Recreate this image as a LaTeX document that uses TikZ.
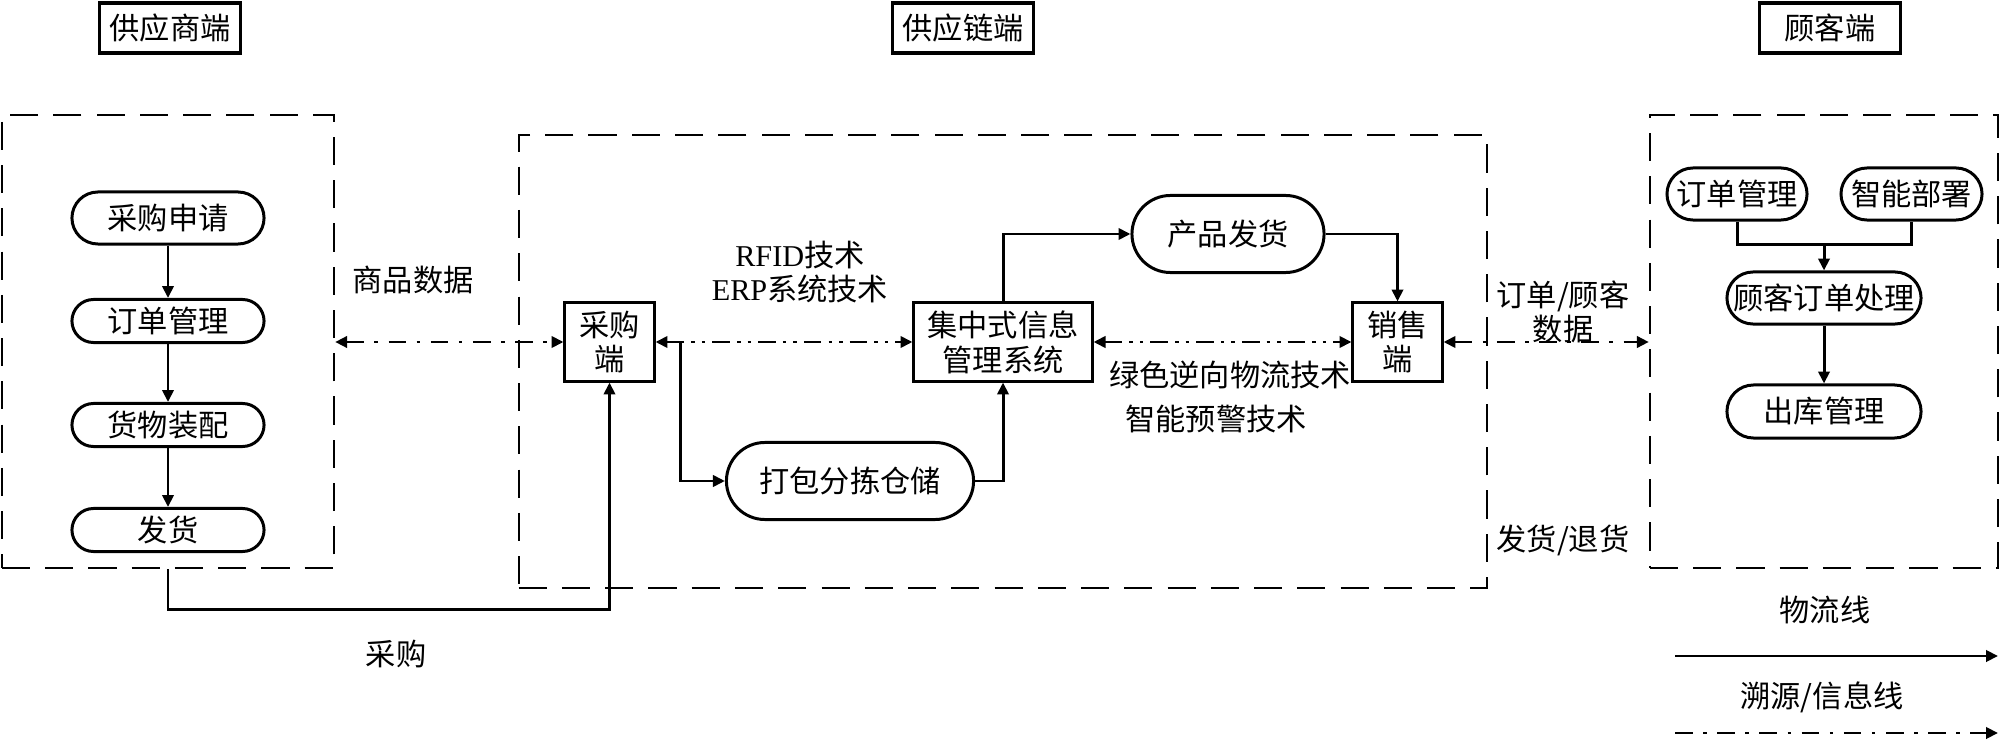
\documentclass[tikz,border=0pt]{standalone}
\usepackage{fontspec}
\setmainfont{Noto Sans CJK SC}
\newfontfamily\latinfont{Liberation Serif}
\usepackage{tikz}
\usetikzlibrary{arrows.meta,positioning,calc}

\begin{document}
\begin{tikzpicture}[
  x=0.01cm, y=-0.01cm,
  font=\fontsize{8.6pt}{9.9pt}\selectfont,
  >={Triangle[length=3.4pt,width=3.2pt]},
  header/.style={draw,line width=1pt,minimum width=1.41cm,minimum height=0.5cm,inner sep=0pt},
  group/.style={draw,line width=0.6pt,dash pattern=on 8pt off 4.3pt,minimum height=4.53cm,inner sep=0pt},
  proc/.style={draw,rectangle,line width=0.85pt,inner sep=0pt,minimum height=#1,rounded corners=#1*0.5},
  unit/.style={draw,rectangle,line width=0.85pt,inner sep=0pt,align=center,minimum height=0.78cm},
  flow/.style={->,line width=0.85pt},
  link/.style={line width=0.85pt},
  info/.style={<->,line width=0.85pt,dash pattern=on 5pt off 3pt on 1pt off 3pt},
  info2/.style={<->,line width=0.85pt,dash pattern=on 5pt off 2pt on 1pt off 2pt on 1pt off 2pt}
]
\useasboundingbox (0,0) rectangle (2000,740);

\def\yinfo{342}

% headers
\node[header] (hsup)   at (170,28)  {供应商端};
\node[header] (hchain) at (963,28)  {供应链端};
\node[header] (hcus)   at (1830,28) {顾客端};

% dashed groups
\node[group,minimum width=3.32cm] (supbox)   at (168,341.5)  {};
\node[group,minimum width=9.68cm] (chainbox) at (1003,361.5) {};
\node[group,minimum width=3.48cm] (cusbox)   at (1824,341.5) {};

% supplier side
\node[proc=0.52cm,minimum width=1.92cm] (req)  at (168,218) {采购申请};
\node[proc=0.43cm,minimum width=1.92cm] (ordA) at (168,321) {订单管理};
\node[proc=0.43cm,minimum width=1.92cm] (asm)  at (168,425) {货物装配};
\node[proc=0.43cm,minimum width=1.92cm] (ship) at (168,530) {发货};

% supply chain
\node[unit,minimum width=0.89cm] (buy)  at (609.5,\yinfo)  {采购\\端};
\node[unit,minimum width=1.78cm] (ims)  at (1003,\yinfo)   {集中式信息\\管理系统};
\node[unit,minimum width=0.89cm] (sell) at (1397.5,\yinfo) {销售\\端};
\node[proc=0.77cm,minimum width=2.47cm] (pack)  at (850,481)  {打包分拣仓储};
\node[proc=0.77cm,minimum width=1.92cm] (deliv) at (1228,234) {产品发货};

% customer side
\node[proc=0.52cm,minimum width=1.40cm] (ordB)  at (1737,194)   {订单管理};
\node[proc=0.52cm,minimum width=1.41cm] (smart) at (1911.5,194) {智能部署};
\node[proc=0.52cm,minimum width=1.94cm] (cord)  at (1824,298)   {顾客订单处理};
\node[proc=0.53cm,minimum width=1.94cm] (outb)  at (1824,411.5) {出库管理};

% labels
\node (goods)   at (413,280) {商品数据};
\node[align=center] (techA) at (800,272) {{\latinfont RFID}技术\\{\latinfont ERP}系统技术};
\node (techB)   at (1230,375) {绿色逆向物流技术};
\node (techC)   at (1216,419) {智能预警技术};
\node[align=center] (cusdata) at (1563,312) {订单/顾客\\数据};
\node (retn)    at (1563,540) {发货/退货};
\node (purch)   at (396,654)  {采购};
\node (lgflow)  at (1825,610) {物流线};
\node (lginfo)  at (1822,697) {溯源/信息线};

% supplier flow
\draw[flow] (req) -- (ordA);
\draw[flow] (ordA) -- (asm);
\draw[flow] (asm) -- (ship);
\draw[flow] (supbox.south) -- ++(0,40) -| (buy.south);

% chain flow
\coordinate (split) at ($(buy.east)+(25,0)$);
\draw[flow] (split) |- (pack);
\draw[flow] (pack.east) -| (ims.south);
\draw[flow] (ims.north) |- (deliv.west);
\draw[flow] (deliv.east) -| (sell.north);

% information lines
\draw[info]  (supbox.east |- buy) -- (buy);
\draw[info2] (buy) -- (ims);
\draw[info2] (ims) -- (sell);
\draw[info]  (sell) -- (cusbox.west |- sell);

% customer flow
\coordinate (merge) at ($(cord.north)+(0,-26)$);
\draw[link] (ordB.south) |- (merge) -| (smart.south);
\draw[flow] (merge) -- (cord);
\draw[flow] (cord) -- (outb);

% legend
\coordinate (lgA) at (1675,656);
\coordinate (lgB) at (1998,656);
\coordinate (lgC) at (1675,733);
\coordinate (lgD) at (1998,733);
\draw[flow] (lgA) -- (lgB);
\draw[->,line width=0.85pt,dash pattern=on 5pt off 3pt on 1pt off 3pt] (lgC) -- (lgD);

\end{tikzpicture}
\end{document}
